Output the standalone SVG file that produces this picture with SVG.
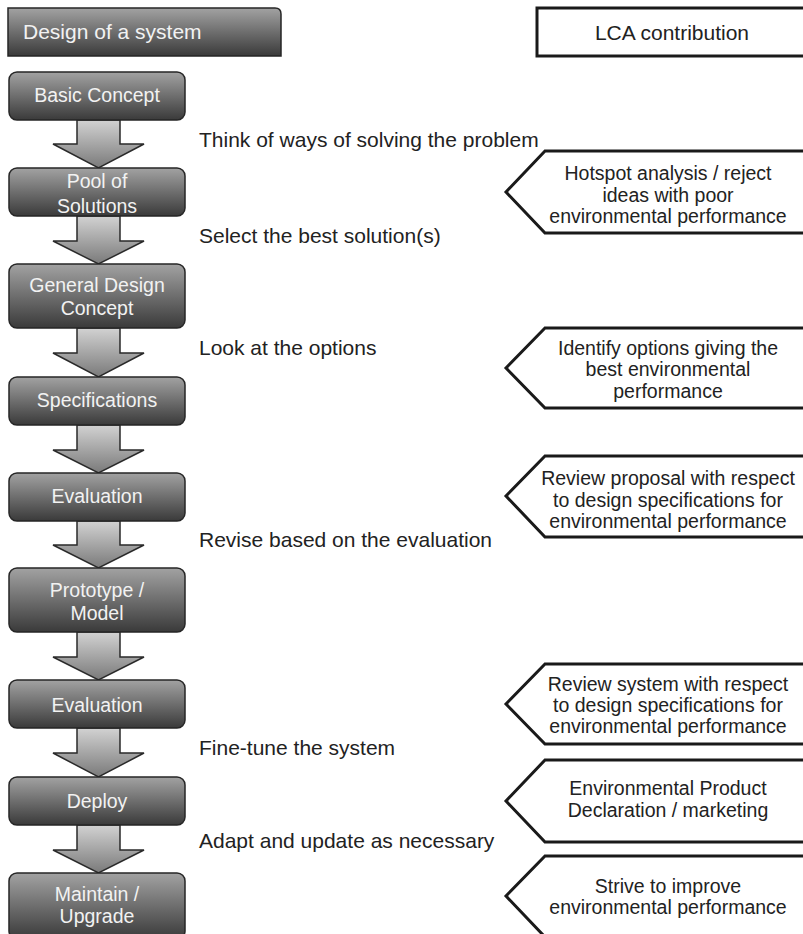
<svg xmlns="http://www.w3.org/2000/svg" width="803" height="934" viewBox="0 0 803 934">
  <defs>
    <linearGradient id="nodeFill" x1="0" y1="0" x2="0" y2="1">
      <stop offset="0" stop-color="#a2a2a2"/>
      <stop offset="0.5" stop-color="#6e6e6e"/>
      <stop offset="1" stop-color="#3a3a3a"/>
    </linearGradient>
    <linearGradient id="arrowFill" x1="0" y1="0" x2="0" y2="1">
      <stop offset="0" stop-color="#d2d2d2"/>
      <stop offset="1" stop-color="#7a7a7a"/>
    </linearGradient>
    <style>
      .node { fill: url(#nodeFill); stroke: #262626; stroke-width: 1.5; }
      .ntext { font-family: "Liberation Sans", Arial, sans-serif; font-size: 19.5px; fill: #f2f2f2; text-anchor: middle; }
      .htext { font-family: "Liberation Sans", Arial, sans-serif; font-size: 21px; fill: #f2f2f2; }
      .arrow { fill: url(#arrowFill); stroke: #2a2a2a; stroke-width: 1.5; stroke-linejoin: miter; }
      .label { font-family: "Liberation Sans", Arial, sans-serif; font-size: 21px; fill: #222; }
      .callout { fill: #fff; stroke: #1a1a1a; stroke-width: 3; stroke-linejoin: miter; }
      .ctext { font-family: "Liberation Sans", Arial, sans-serif; font-size: 19.5px; fill: #222; text-anchor: middle; }
      .lca { fill: #fff; stroke: #1a1a1a; stroke-width: 3; }
      .lcatext { font-family: "Liberation Sans", Arial, sans-serif; font-size: 21px; fill: #222; text-anchor: middle; }
    </style>
  </defs>

  <!-- column headers -->
  <g id="header-design">
    <path class="node" d="M8,8 H275 Q281,8 281,14 V56 H8 Z"/>
    <text class="htext" x="23" y="39">Design of a system</text>
  </g>
  <g id="header-lca">
    <rect class="lca" x="537" y="8" width="280" height="48"/>
    <text class="lcatext" x="672" y="40">LCA contribution</text>
  </g>

  <!-- block arrows between the design steps -->
  <g id="connectors">
    <path class="arrow" d="M77,120 H120 V144 H144 L98.5,168 L53,144 H77 Z"/>
    <path class="arrow" d="M77,216 H120 V241 H144 L98.5,264 L53,241 H77 Z"/>
    <path class="arrow" d="M77,328 H120 V353 H144 L98.5,377 L53,353 H77 Z"/>
    <path class="arrow" d="M77,425 H120 V450 H144 L98.5,473 L53,450 H77 Z"/>
    <path class="arrow" d="M77,521 H120 V545 H144 L98.5,568 L53,545 H77 Z"/>
    <path class="arrow" d="M77,632 H120 V657 H144 L98.5,680 L53,657 H77 Z"/>
    <path class="arrow" d="M77,728 H120 V753 H144 L98.5,777 L53,753 H77 Z"/>
    <path class="arrow" d="M77,825 H120 V850 H144 L98.5,873 L53,850 H77 Z"/>
  </g>

  <!-- design steps -->
  <g id="step-basic-concept">
    <rect class="node" x="9" y="72" width="176" height="48" rx="8"/>
    <text class="ntext" x="97" y="102">Basic Concept</text>
  </g>
  <g id="step-pool-of-solutions">
    <rect class="node" x="9" y="168" width="176" height="48" rx="8"/>
    <text class="ntext" x="97" y="188">Pool of</text>
    <text class="ntext" x="97" y="213">Solutions</text>
  </g>
  <g id="step-general-design-concept">
    <rect class="node" x="9" y="264" width="176" height="64" rx="8"/>
    <text class="ntext" x="97" y="292">General Design</text>
    <text class="ntext" x="97" y="315">Concept</text>
  </g>
  <g id="step-specifications">
    <rect class="node" x="9" y="377" width="176" height="48" rx="8"/>
    <text class="ntext" x="97" y="407">Specifications</text>
  </g>
  <g id="step-evaluation-1">
    <rect class="node" x="9" y="473" width="176" height="48" rx="8"/>
    <text class="ntext" x="97" y="503">Evaluation</text>
  </g>
  <g id="step-prototype-model">
    <rect class="node" x="9" y="568" width="176" height="64" rx="8"/>
    <text class="ntext" x="97" y="597">Prototype /</text>
    <text class="ntext" x="97" y="620">Model</text>
  </g>
  <g id="step-evaluation-2">
    <rect class="node" x="9" y="680" width="176" height="48" rx="8"/>
    <text class="ntext" x="97" y="712">Evaluation</text>
  </g>
  <g id="step-deploy">
    <rect class="node" x="9" y="777" width="176" height="48" rx="8"/>
    <text class="ntext" x="97" y="808">Deploy</text>
  </g>
  <g id="step-maintain-upgrade">
    <rect class="node" x="9" y="873" width="176" height="66" rx="8"/>
    <text class="ntext" x="97" y="901">Maintain /</text>
    <text class="ntext" x="97" y="923">Upgrade</text>
  </g>

  <!-- transition labels -->
  <g id="transition-labels">
    <text class="label" x="199" y="147">Think of ways of solving the problem</text>
    <text class="label" x="199" y="243">Select the best solution(s)</text>
    <text class="label" x="199" y="355">Look at the options</text>
    <text class="label" x="199" y="547">Revise based on the evaluation</text>
    <text class="label" x="199" y="755">Fine-tune the system</text>
    <text class="label" x="199" y="848">Adapt and update as necessary</text>
  </g>

  <!-- LCA contribution callouts -->
  <g id="lca-hotspot">
    <path class="callout" d="M545,151 L506,192 L545,233 H815 V151 Z"/>
    <text class="ctext" x="668" y="180">Hotspot analysis / reject</text>
    <text class="ctext" x="668" y="202">ideas with poor</text>
    <text class="ctext" x="668" y="223">environmental performance</text>
  </g>
  <g id="lca-options">
    <path class="callout" d="M545,328 L506,368 L545,408 H815 V328 Z"/>
    <text class="ctext" x="668" y="355">Identify options giving the</text>
    <text class="ctext" x="668" y="376">best environmental</text>
    <text class="ctext" x="668" y="398">performance</text>
  </g>
  <g id="lca-review-proposal">
    <path class="callout" d="M545,456 L506,496 L545,537 H815 V456 Z"/>
    <text class="ctext" x="668" y="485">Review proposal with respect</text>
    <text class="ctext" x="668" y="507">to design specifications for</text>
    <text class="ctext" x="668" y="528">environmental performance</text>
  </g>
  <g id="lca-review-system">
    <path class="callout" d="M545,664 L506,704 L545,744 H815 V664 Z"/>
    <text class="ctext" x="668" y="691">Review system with respect</text>
    <text class="ctext" x="668" y="712">to design specifications for</text>
    <text class="ctext" x="668" y="733">environmental performance</text>
  </g>
  <g id="lca-epd">
    <path class="callout" d="M545,760 L506,801 L545,842 H815 V760 Z"/>
    <text class="ctext" x="668" y="795">Environmental Product</text>
    <text class="ctext" x="668" y="817">Declaration / marketing</text>
  </g>
  <g id="lca-improve">
    <path class="callout" d="M545,856 L506,896 L545,937 H815 V856 Z"/>
    <text class="ctext" x="668" y="893">Strive to improve</text>
    <text class="ctext" x="668" y="914">environmental performance</text>
  </g>
</svg>
